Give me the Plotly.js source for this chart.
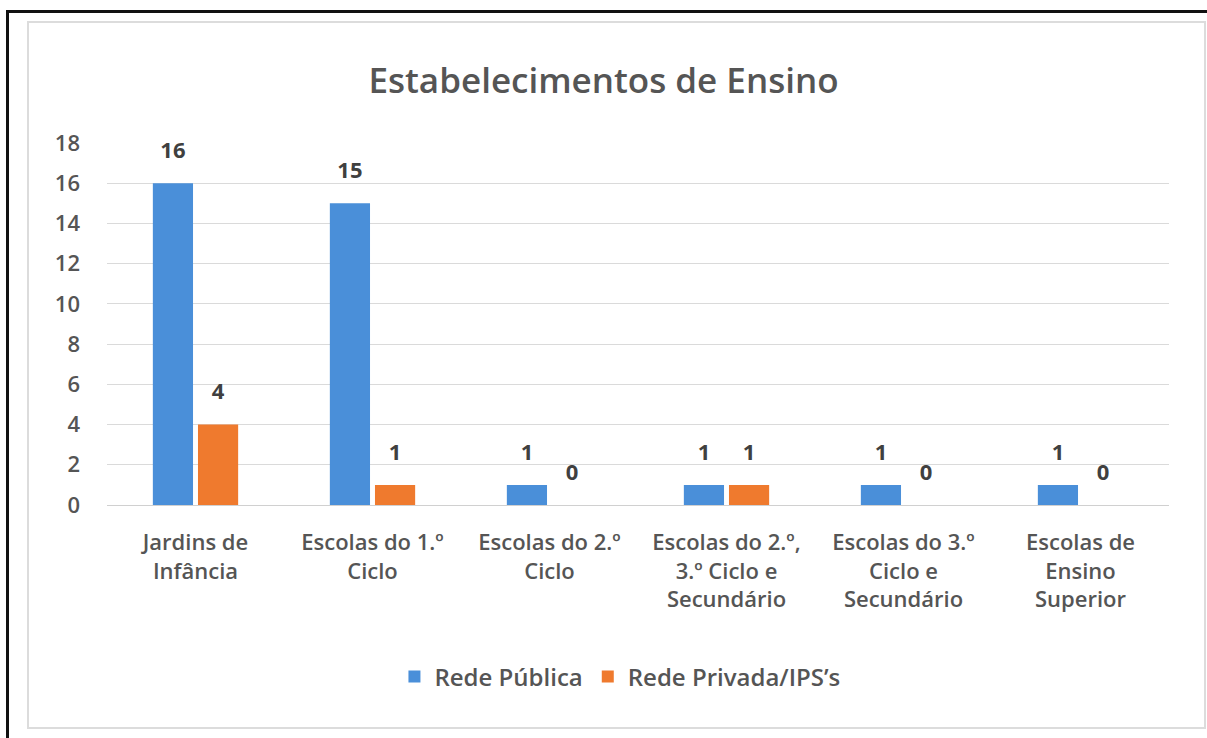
<!DOCTYPE html>
<html>
<head>
<meta charset="utf-8">
<script src="https://cdn.plot.ly/plotly-3.0.1.min.js"></script>
<style>
  html, body { margin: 0; padding: 0; background: #ffffff; }
  #wrap { position: relative; width: 1207px; height: 738px; overflow: hidden; background: #fff; }
  #outer { position: absolute; left: 6px; top: 10px; width: 1220px; height: 760px; border-left: 3px solid #111; border-top: 3px solid #111; }
  #inner { position: absolute; left: 27px; top: 21px; width: 1175px; height: 704px; border: 2px solid #dcdcdc; }
  #chart { position: absolute; left: 0; top: 0; width: 1207px; height: 738px; }
</style>
</head>
<body>
<div id="wrap">
  <div id="outer"></div>
  <div id="inner"></div>
  <div id="chart"></div>
</div>
<script>
const categories = [
  "Jardins de<br>Infância",
  "Escolas do 1.º<br>Ciclo",
  "Escolas do 2.º<br>Ciclo",
  "Escolas do 2.º,<br>3.º Ciclo e<br>Secundário",
  "Escolas do 3.º<br>Ciclo e<br>Secundário",
  "Escolas de<br>Ensino<br>Superior"
];
const redePublica = [16, 15, 1, 1, 1, 1];
const redePrivada = [4, 1, 0, 1, 0, 0];
const seriesNames = ["Rede Pública", "Rede Privada/IPS’s"];
const yTicks = [0, 2, 4, 6, 8, 10, 12, 14, 16, 18];

const colors = ["#4a8fd9", "#ef7a2e"];
const fontFam = "'Open Sans', 'Noto Sans', sans-serif";
const textColor = "#555555";

const barTrace = (vals, name, color) => ({
  type: "bar", x: categories, y: vals, name: name,
  marker: { color: color }, hoverinfo: "none"
});
const labelTrace = (vals) => ({
  type: "scatter", mode: "text+markers", x: categories, y: vals,
  text: vals.map(String), textposition: "top center",
  textfont: { family: fontFam, size: 22, color: "#404040", weight: 700 },
  marker: { size: 30, color: "rgba(0,0,0,0)" },
  showlegend: false, hoverinfo: "none", cliponaxis: false
});

const data = [
  barTrace(redePublica, seriesNames[0], colors[0]),
  barTrace(redePrivada, seriesNames[1], colors[1]),
  labelTrace(redePublica),
  labelTrace(redePrivada)
];

const layout = {
  width: 1207, height: 738,
  paper_bgcolor: "rgba(0,0,0,0)", plot_bgcolor: "rgba(0,0,0,0)",
  margin: { l: 107, r: 38, t: 143, b: 233 },
  font: { family: fontFam, color: textColor },
  title: {
    text: "Estabelecimentos de Ensino",
    font: { family: fontFam, size: 35, color: textColor, weight: 600 },
    x: 0.5, xanchor: "center", y: 0.89, yanchor: "middle"
  },
  barmode: "group",
  bargap: 0.49,
  bargroupgap: 0.11,
  scattermode: "group",
  scattergap: 0.49,
  xaxis: {
    type: "category",
    tickfont: { family: fontFam, size: 22, color: textColor, weight: 600 },
    ticklabelstandoff: 22,
    showgrid: false, zeroline: false, showline: false, ticks: ""
  },
  yaxis: {
    range: [0, 18],
    tickvals: yTicks,
    tickfont: { family: fontFam, size: 22, color: textColor, weight: 600 },
    ticklabelstandoff: 26,
    showgrid: true, gridcolor: "#dadada", gridwidth: 1,
    zeroline: true, zerolinecolor: "#d0d0d0", zerolinewidth: 1,
    showline: false, ticks: ""
  },
  showlegend: true,
  legend: {
    orientation: "h", x: 0.483, xanchor: "center", y: -0.475, yanchor: "middle",
    font: { family: fontFam, size: 24, color: textColor, weight: 600 },
    itemwidth: 30, traceorder: "normal"
  }
};

Plotly.newPlot("chart", data, layout, { displayModeBar: false, staticPlot: true });
</script>
</body>
</html>
